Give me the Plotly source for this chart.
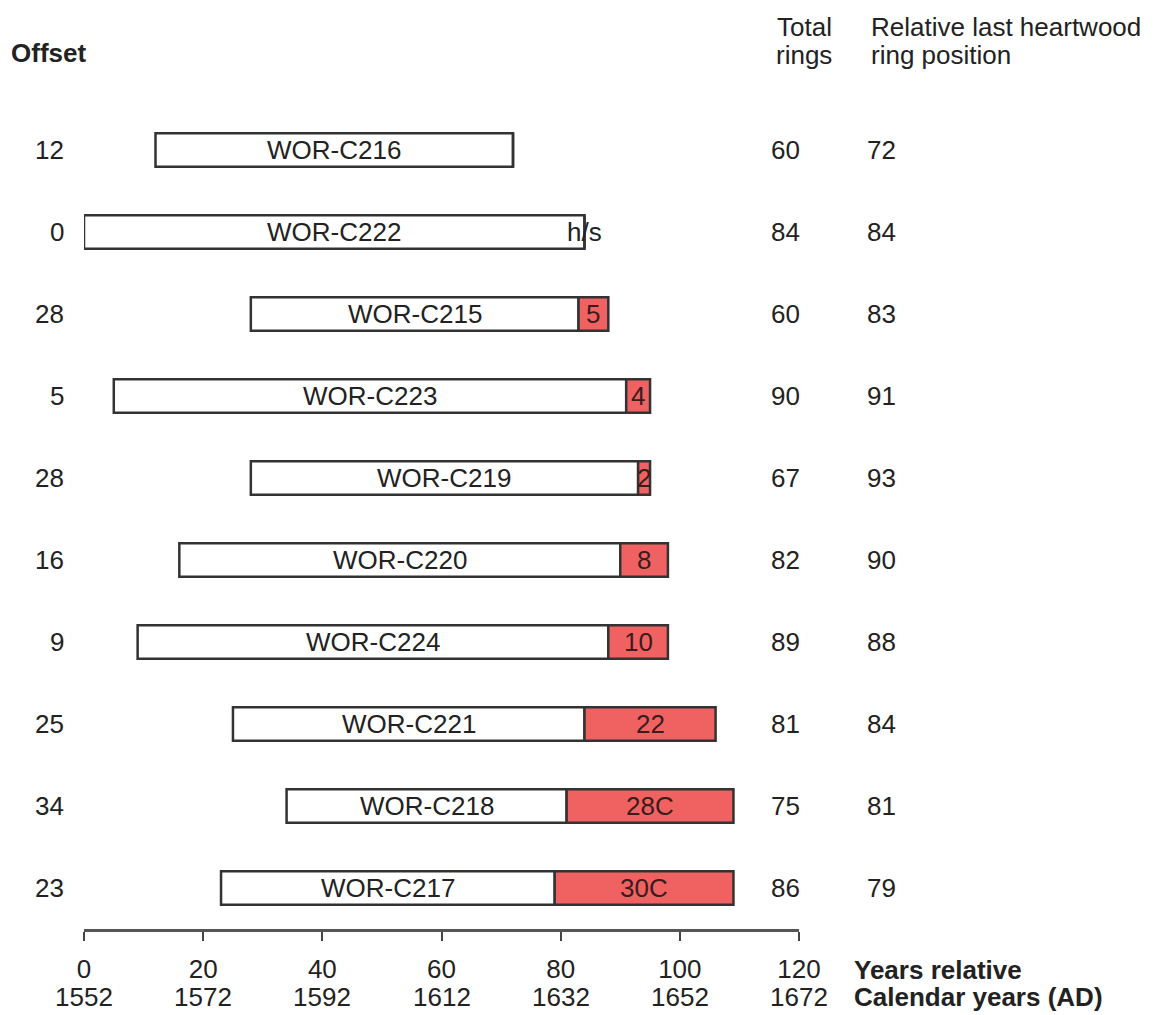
import plotly.graph_objects as go

samples = ["WOR-C216", "WOR-C222", "WOR-C215", "WOR-C223", "WOR-C219",
           "WOR-C220", "WOR-C224", "WOR-C221", "WOR-C218", "WOR-C217"]
offsets = [12, 0, 28, 5, 28, 16, 9, 25, 34, 23]
total_rings = [60, 84, 60, 90, 67, 82, 89, 81, 75, 86]
last_heartwood = [72, 84, 83, 91, 93, 90, 88, 84, 81, 79]
sapwood_labels = ["", "h/s", "5", "4", "2", "8", "10", "22", "28C", "30C"]
rel_ticks = [0, 20, 40, 60, 80, 100, 120]
cal_ticks = [1552, 1572, 1592, 1612, 1632, 1652, 1672]

W, H = 1157, 1015
SH = 8                     # page body margin offset
X0, X1 = 84 - SH, 799 - SH  # pixel positions of x=0 and x=120
TOP, BOT = 109 - SH, 929 - SH
XMAX = 120
FONT = "Liberation Sans, Arial, sans-serif"
FS = 26
TXT = "#222222"
RED = "#F06262"
EDGE = "#333333"

rows = list(range(len(samples)))
ends = [o + t for o, t in zip(offsets, total_rings)]
hw_end = [min(h, e) for h, e in zip(last_heartwood, ends)]
sap_len = [e - h for e, h in zip(ends, hw_end)]


def px_to_paper_x(p):
    return (p - SH - X0) / (X1 - X0)


def px_to_paper_y(p):
    return (BOT - (p - SH)) / (BOT - TOP)


def font(color=TXT, size=FS):
    return dict(family=FONT, size=size, color=color)


fig = go.Figure()
fig.add_trace(go.Bar(
    y=rows, x=[h - o for h, o in zip(hw_end, offsets)], base=offsets,
    orientation="h", width=0.41,
    marker=dict(color="white", line=dict(color=EDGE, width=2.5)),
    hoverinfo="skip", showlegend=False,
))
fig.add_trace(go.Bar(
    y=rows, x=sap_len, base=hw_end,
    orientation="h", width=0.41,
    marker=dict(color=RED, line=dict(color=EDGE, width=2.5)),
    hoverinfo="skip", showlegend=False,
))

ann = []
for i in rows:
    ann.append(dict(x=(offsets[i] + hw_end[i]) / 2, y=i, xref="x", yref="y",
                    yanchor="middle", text=samples[i], showarrow=False, font=font()))
    if sap_len[i] > 0:
        ann.append(dict(x=(hw_end[i] + ends[i]) / 2, y=i, xref="x", yref="y",
                        yanchor="middle", text=sapwood_labels[i], showarrow=False,
                        font=font("#3a1c1c")))
    elif sapwood_labels[i]:
        ann.append(dict(x=ends[i], y=i, xref="x", yref="y", yanchor="middle",
                        text=sapwood_labels[i], showarrow=False, font=font()))
    ann.append(dict(x=px_to_paper_x(66), y=i, xref="paper", yref="y",
                    xanchor="right", yanchor="middle", text=str(offsets[i]),
                    showarrow=False, font=font()))
    ann.append(dict(x=px_to_paper_x(785), y=i, xref="paper", yref="y",
                    xanchor="center", yanchor="middle", text=str(total_rings[i]),
                    showarrow=False, font=font()))
    ann.append(dict(x=px_to_paper_x(865), y=i, xref="paper", yref="y",
                    xanchor="left", yanchor="middle", text=str(last_heartwood[i]),
                    showarrow=False, font=font()))

ann.append(dict(x=px_to_paper_x(9), y=px_to_paper_y(53), xref="paper", yref="paper",
                xanchor="left", yanchor="middle", text="<b>Offset</b>",
                showarrow=False, font=font()))
for txt, yp in [("Total", 27), ("rings", 55)]:
    ann.append(dict(x=px_to_paper_x(804), y=px_to_paper_y(yp), xref="paper", yref="paper",
                    xanchor="center", yanchor="middle", text=txt, showarrow=False,
                    font=font()))
for txt, yp in [("Relative last heartwood", 27), ("ring position", 55)]:
    ann.append(dict(x=px_to_paper_x(869), y=px_to_paper_y(yp), xref="paper", yref="paper",
                    xanchor="left", yanchor="middle", text=txt, showarrow=False,
                    font=font()))

for r, c in zip(rel_ticks, cal_ticks):
    ann.append(dict(x=r, y=px_to_paper_y(997), xref="x", yref="paper",
                    yanchor="middle", text=str(c), showarrow=False, font=font()))
ann.append(dict(x=px_to_paper_x(852), y=px_to_paper_y(970), xref="paper", yref="paper",
                xanchor="left", yanchor="middle", text="<b>Years relative</b>",
                showarrow=False, font=font()))
ann.append(dict(x=px_to_paper_x(852), y=px_to_paper_y(997), xref="paper", yref="paper",
                xanchor="left", yanchor="middle", text="<b>Calendar years (AD)</b>",
                showarrow=False, font=font()))

fig.update_layout(
    width=W, height=H,
    margin=dict(l=X0, r=W - X1, t=TOP, b=H - BOT, pad=0),
    paper_bgcolor="white", plot_bgcolor="white",
    barmode="overlay",
    annotations=ann,
    xaxis=dict(range=[0, XMAX], tickvals=rel_ticks, ticktext=[str(v) for v in rel_ticks],
               showgrid=False, zeroline=False, showline=True, linecolor="#555555",
               linewidth=3, ticks="outside", ticklen=9, tickwidth=2, tickcolor="#444444",
               tickfont=font(), ticklabelstandoff=6),
    yaxis=dict(range=[len(samples) - 0.5, -0.5], showgrid=False, zeroline=False,
               showticklabels=False, showline=False),
)

fig.write_html("out.html")
